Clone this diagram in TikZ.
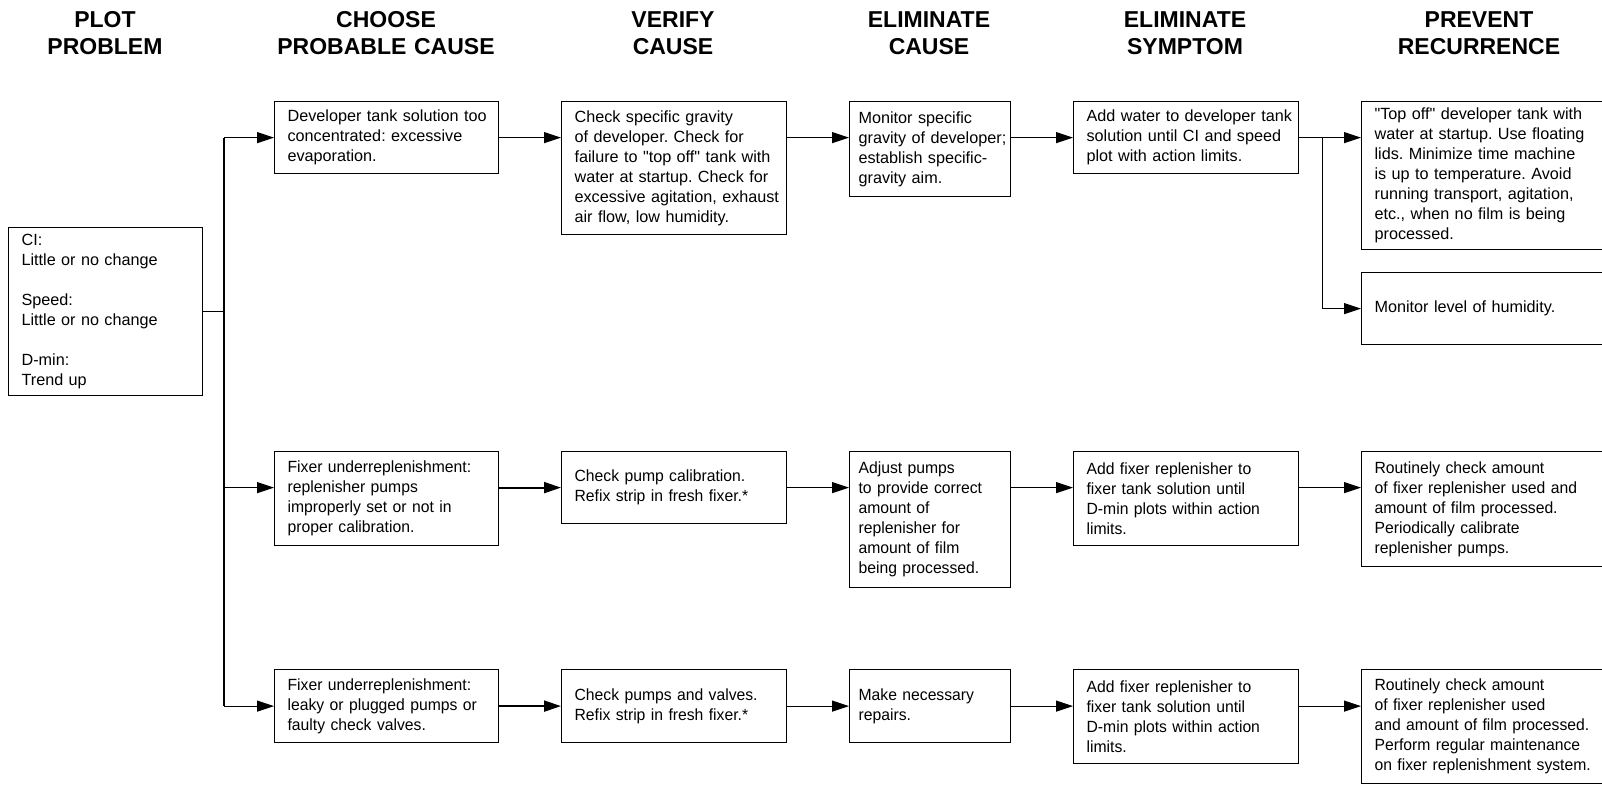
\documentclass[tikz,border=0pt]{standalone}
\usepackage{fontspec}
\usetikzlibrary{arrows.meta}
\newfontfamily\procfont{Liberation Sans}
\newfontfamily\procfontc[FakeStretch=0.97]{Liberation Sans}
\newcommand\bodytxt{\procfont\fontsize{16.2pt}{20pt}\selectfont\frenchspacing}
\newcommand\bodytxtc{\procfontc\fontsize{16.2pt}{20pt}\selectfont\frenchspacing}
\newcommand\headtxt{\procfont\bfseries\fontsize{23pt}{26.7pt}\selectfont}
\begin{document}
\begin{tikzpicture}[x=1pt,y=-1pt,
  box/.style={draw, line width=1.2pt, inner xsep=0pt, inner ysep=3pt,
    anchor=north west, align=left, font=\bodytxt},
  padw/.style={execute at begin node={\leftskip=13pt\rightskip=-30pt plus 1fil\relax}},
  padn/.style={execute at begin node={\leftskip=9pt\rightskip=-30pt plus 1fil\relax}},
  low/.style={font=\bodytxtc},
  head/.style={anchor=base, align=center, text width=320pt, inner sep=0pt, font=\headtxt},
  link/.style={line width=1.2pt},
  arr/.style={line width=1.2pt, -{Triangle[length=17pt,width=11pt]}},
  heavy/.style={line width=2pt}
]
\useasboundingbox (0,0) rectangle (1602,784);

% column headings
\node[head] (h1) at (105,28)  {PLOT\\PROBLEM};
\node[head] (h2) at (386,28)  {CHOOSE\\PROBABLE CAUSE};
\node[head] (h3) at (673,28)  {VERIFY\\CAUSE};
\node[head] (h4) at (929,28)  {ELIMINATE\\CAUSE};
\node[head] (h5) at (1185,28) {ELIMINATE\\SYMPTOM};
\node[head] (h6) at (1479,28) {PREVENT\\RECURRENCE};

% problem box
\node[box,padw,text width=194pt,minimum height=168pt] (plot) at (8,227)
  {CI:\\Little or no change\\[20pt]Speed:\\Little or no change\\[20pt]D-min:\\Trend up};

% first cause: developer evaporation
\node[box,padw,text width=224pt,minimum height=72pt] (a1) at (274,101)
  {Developer tank solution too\\concentrated: excessive\\evaporation.};
\node[box,padw,text width=225pt,minimum height=133pt] (b1) at (561,101)
  {Check specific gravity\\of developer. Check for\\failure to "top off" tank with\\water at startup. Check for\\excessive agitation, exhaust\\air flow, low humidity.};
\node[box,padn,text width=161pt,minimum height=95pt] (c1) at (849,101)
  {Monitor specific\\gravity of developer;\\establish specific-\\gravity aim.};
\node[box,padw,text width=225pt,minimum height=72pt] (d1) at (1073,101)
  {Add water to developer tank\\solution until CI and speed\\plot with action limits.};
\node[box,padw,text width=260pt,minimum height=148pt] (e1) at (1361,101)
  {"Top off" developer tank with\\water at startup. Use floating\\lids. Minimize time machine\\is up to temperature. Avoid\\running transport, agitation,\\etc., when no film is being\\processed.};
\node[box,padw,text width=260pt,minimum height=72pt] (e1b) at (1361,272)
  {Monitor level of humidity.};

% second cause: pump setting
\node[box,padw,low,text width=224pt,minimum height=94pt] (a2) at (274,451)
  {Fixer underreplenishment:\\replenisher pumps\\improperly set or not in\\proper calibration.};
\node[box,padw,low,text width=225pt,minimum height=72pt] (b2) at (561,451)
  {Check pump calibration.\\Refix strip in fresh fixer.*};
\node[box,padn,low,text width=161pt,minimum height=136pt] (c2) at (849,451)
  {Adjust pumps\\to provide correct\\amount of\\replenisher for\\amount of film\\being processed.};
\node[box,padw,low,text width=225pt,minimum height=94pt] (d2) at (1073,451)
  {Add fixer replenisher to\\fixer tank solution until\\D-min plots within action\\limits.};
\node[box,padw,low,text width=260pt,minimum height=115pt] (e2) at (1361,451)
  {Routinely check amount\\of fixer replenisher used and\\amount of film processed.\\Periodically calibrate\\replenisher pumps.};

% third cause: leaks and valves
\node[box,padw,low,text width=224pt,minimum height=73pt] (a3) at (274,669)
  {Fixer underreplenishment:\\leaky or plugged pumps or\\faulty check valves.};
\node[box,padw,low,text width=225pt,minimum height=73pt] (b3) at (561,669)
  {Check pumps and valves.\\Refix strip in fresh fixer.*};
\node[box,padn,low,text width=161pt,minimum height=73pt] (c3) at (849,669)
  {Make necessary\\repairs.};
\node[box,padw,low,text width=225pt,minimum height=94pt] (d3) at (1073,669)
  {Add fixer replenisher to\\fixer tank solution until\\D-min plots within action\\limits.};
\node[box,padw,low,text width=260pt,minimum height=114pt] (e3) at (1361,669)
  {Routinely check amount\\of fixer replenisher used\\and amount of film processed.\\Perform regular maintenance\\on fixer replenishment system.};

% branching trunk
\coordinate (tr) at (224,0);
\draw[link] (plot.east) -- (tr |- plot.east);
\draw[link] (tr |- a1.west) -- (tr |- a3.west);
\draw[arr] (tr |- a1.west) -- (a1.west);
\draw[arr] (tr |- b2.west) -- (a2.west |- b2.west);
\draw[arr] (tr |- a3.west) -- (a3.west);

% row 1
\draw[arr] (a1.east) -- (b1.west |- a1.east);
\draw[arr] (b1.east |- a1.east) -- (c1.west |- a1.east);
\draw[arr] (c1.east |- a1.east) -- (d1.west |- a1.east);
\draw[arr] (d1.east) -- (e1.west |- d1.east);
\coordinate (br) at ([xshift=23pt]d1.east);
\draw[arr] (br) |- (e1b.west);

% row 2
\draw[arr,heavy] (a2.east |- b2.west) -- (b2.west);
\draw[arr] (b2.east) -- (c2.west |- b2.east);
\draw[arr] (c2.east |- b2.east) -- (d2.west |- b2.east);
\draw[arr] (d2.east |- b2.east) -- (e2.west |- b2.east);

% row 3
\draw[arr,heavy] (a3.east) -- (b3.west);
\draw[arr] (b3.east) -- (c3.west);
\draw[arr] (c3.east) -- (d3.west |- c3.east);
\draw[arr] (d3.east |- c3.east) -- (e3.west |- c3.east);
\end{tikzpicture}
\end{document}
